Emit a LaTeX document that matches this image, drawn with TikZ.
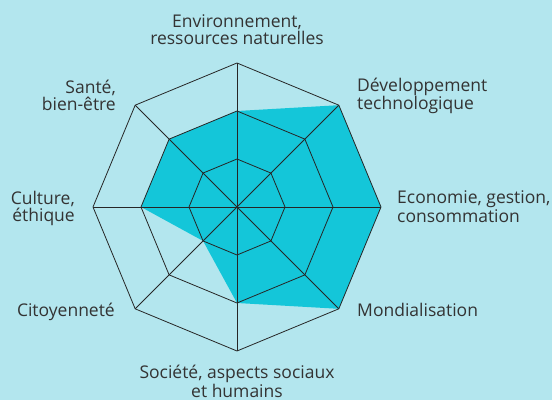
\documentclass[tikz,border=0pt]{standalone}
\usepackage{fontspec}
\setmainfont{Open Sans}
\usetikzlibrary{positioning, calc}
\definecolor{bgcyan}{HTML}{B3E6EE}
\definecolor{areacyan}{HTML}{14C6D9}
\definecolor{txtgray}{HTML}{333333}

\begin{document}
\begin{tikzpicture}[x=1pt, y=1pt,
    font=\fontsize{17.5}{17}\selectfont,
    axislabel/.style={text=txtgray, inner sep=0pt},
    gridline/.style={draw=black!85, line width=0.8pt}]
    % Background
    \fill[bgcyan] (0,0) rectangle (552,400);
    \useasboundingbox (0,0) rectangle (552,400);

    % Centre and outer corners
    \coordinate (O) at (237,193);
    \coordinate (EnvOut) at ($(O)+(90:144)$);
    \coordinate (DevOut) at ($(O)+(45:144)$);
    \coordinate (EcoOut) at ($(O)+(0:144)$);
    \coordinate (MondOut) at ($(O)+(-45:144)$);
    \coordinate (SocOut) at ($(O)+(-90:144)$);
    \coordinate (CitOut) at ($(O)+(-135:144)$);
    \coordinate (CultOut) at ($(O)+(180:144)$);
    \coordinate (SanteOut) at ($(O)+(135:144)$);

    % Scores
    \fill[areacyan, shift={(O)}] (90:96) -- (45:144) -- (0:144) -- (-45:144)
        -- (-90:96) -- (-135:48) -- (180:96) -- (135:96) -- cycle;

    % Octagons
    \foreach \r in {48,96,144}
        \draw[gridline, shift={(O)}] (90:\r) -- (45:\r) -- (0:\r) -- (-45:\r)
            -- (-90:\r) -- (-135:\r) -- (180:\r) -- (135:\r) -- cycle;

    % Spokes
    \foreach \p in {EnvOut,DevOut,EcoOut,MondOut,SocOut,CitOut,CultOut,SanteOut}
        \draw[gridline] (O) -- (\p);

    % Labels
    \node[axislabel, align=center, anchor=base] (Env) at (237,355) {Environnement,\\ressources naturelles};
    \node[axislabel, align=left, anchor=base west] (Dev) at (357,290.3) {Développement\\technologique};
    \node[axislabel, align=left, anchor=base west] (Eco) at (397,178) {Economie, gestion,\\consommation};
    \node[axislabel, anchor=base west] (Mond) at (357,83.3) {Mondialisation};
    \node[axislabel, align=center, anchor=base] (Soc) at (237,3) {Société, aspects sociaux\\et humains};
    \node[axislabel, anchor=base east] (Cit) at (115,83.3) {Citoyenneté};
    \node[axislabel, align=right, anchor=base east] (Cult) at (75,178.7) {Culture,\\éthique};
    \node[axislabel, align=right, anchor=base east] (Sante) at (116,289.7) {Santé,\\bien-être};
\end{tikzpicture}
\end{document}
